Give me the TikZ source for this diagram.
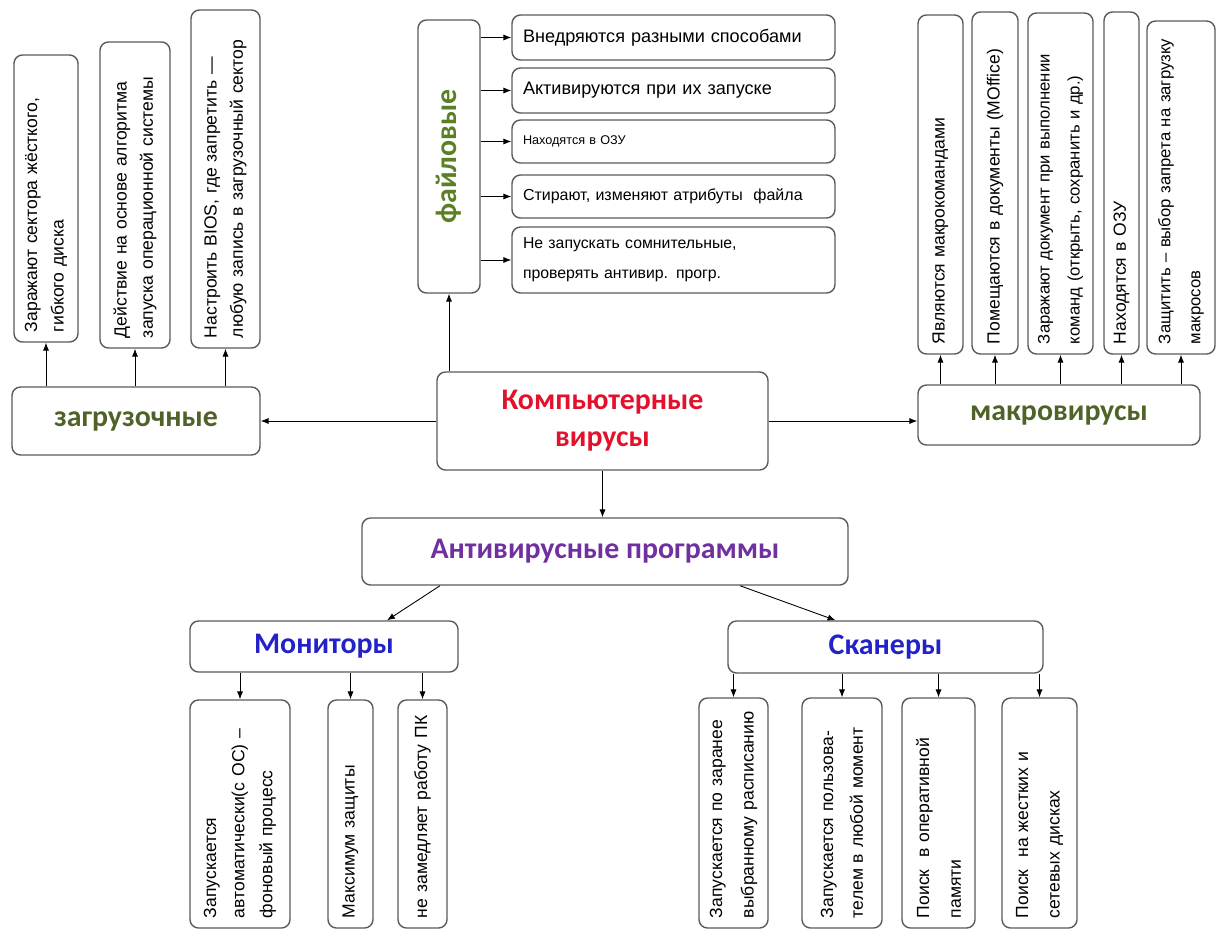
\documentclass[tikz,border=0pt]{standalone}
\usepackage{fontspec}
\setmainfont{Liberation Sans}
\newfontfamily\hdfont{Carlito}
\usepackage{tikz}
\usetikzlibrary{arrows.meta}
\definecolor{virred}{HTML}{E3122C}
\definecolor{olivetxt}{HTML}{4F6228}
\definecolor{filgreen}{HTML}{5B7F24}
\definecolor{avpurple}{HTML}{7030A0}
\definecolor{avblue}{HTML}{2222C8}
\definecolor{boxgray}{HTML}{5A5A5A}
\newcommand{\pxl}{0.02cm}
\tikzstyle{box}=[draw=boxgray,line width=0.8pt,rounded corners=0.17cm,
                 inner sep=0pt]
\tikzstyle{vbox}=[box,rotate=90,align=left,
                  font=\fontsize{10}{15}\selectfont]
\tikzstyle{hbox}=[box,align=left,font=\fontsize{10}{17}\selectfont]
\tikzstyle{hdr}=[box,align=center,
                 font=\hdfont\bfseries\fontsize{17}{21}\selectfont]
\tikzstyle{arr}=[-{Latex[length=4.5pt,width=3.5pt]},line width=0.5pt]
\tikzset{vsize/.style 2 args={minimum width=#2*\pxl,minimum height=#1*\pxl,
                              text width=(#2-20)*\pxl},
         hsize/.style 2 args={minimum width=#1*\pxl,minimum height=#2*\pxl,
                              text width=(#1-22)*\pxl}}

\begin{document}
\begin{tikzpicture}[x=\pxl,y=-\pxl]
  \useasboundingbox (0,0) rectangle (1219,931);

  % centre
  \node (cv) at (602.5,421) [hdr,text=virred,minimum width=331*\pxl,
        minimum height=98*\pxl] {Компьютерные\\вирусы};

  % boot viruses
  \node (zag) at (136,421) [hdr,text=olivetxt,minimum width=248*\pxl,
        minimum height=68*\pxl] {загрузочные};
  \node (l1) at (46,198.5) [vbox,vsize={64}{287}]
        {Заражают сектора жёсткого,\\гибкого диска};
  \node (l2) at (135,195) [vbox,vsize={70}{306}]
        {Действие на основе алгоритма\\запуска операционной системы};
  \node (l3) at (225.5,179) [vbox,vsize={69}{338}]
        {Настроить BIOS, где запретить —\\любую запись в загрузочный сектор};

  % file viruses
  \node (fil) at (449,156.5) [hdr,rotate=90,text=filgreen,
        minimum width=273*\pxl,minimum height=62*\pxl] {файловые};
  \node (f1) at (673.5,37.5) [hbox,hsize={323}{45},
        font=\fontsize{10.3}{17}\selectfont] {Внедряются разными способами};
  \node (f2) at (673.5,90.5) [hbox,hsize={323}{45},
        font=\fontsize{10.3}{17}\selectfont] {Активируются при их запуске};
  \node (f3) at (673.5,141.5) [hbox,hsize={323}{43},
        font=\fontsize{7.2}{17}\selectfont] {Находятся в ОЗУ};
  \node (f4) at (673.5,196.5) [hbox,hsize={323}{43},
        font=\fontsize{9.1}{17}\selectfont] {Стирают, изменяют атрибуты\ \ файла};
  \node (f5) at (673.5,260) [hbox,hsize={323}{66},
        font=\fontsize{9}{17}\selectfont]
        {Не запускать сомнительные,\\проверять антивир. прогр.};

  % macro viruses
  \node (mak) at (1059,415) [hdr,text=olivetxt,minimum width=282*\pxl,
        minimum height=60*\pxl] {макровирусы};
  \node (m1) at (940.5,184.5) [vbox,vsize={45}{339}] {Являются макрокомандами};
  \node (m2) at (995,183) [vbox,vsize={46}{342}]
        {Помещаются в документы (MOffice)};
  \node (m3) at (1060.5,183.5) [vbox,vsize={65}{341},
        font=\fontsize{9.5}{17}\selectfont]
        {Заражают документ при выполнении\\команд (открыть, сохранить и др.)};
  \node (m4) at (1121.5,183) [vbox,vsize={35}{342}] {Находятся в ОЗУ};
  \node (m5) at (1181,187.5) [vbox,vsize={68}{333},
        font=\fontsize{9.5}{17}\selectfont]
        {Защитить – выбор запрета на загрузку\\макросов};

  % antivirus programs
  \node (ap) at (605,551.5) [hdr,text=avpurple,minimum width=486*\pxl,
        minimum height=67*\pxl] {Антивирусные программы};
  \node (mon) at (324,646.5) [hdr,text=avblue,minimum width=268*\pxl,
        minimum height=51*\pxl] {Мониторы};
  \node (sca) at (885.5,647) [hdr,text=avblue,minimum width=315*\pxl,
        minimum height=52*\pxl] {Сканеры};
  \node (o1) at (240,814) [vbox,vsize={100}{228},
        font=\fontsize{10}{16}\selectfont]
        {Запускается\\автоматически(с ОС) –\\фоновый процесс};
  \node (o2) at (350.5,814) [vbox,vsize={45}{228}] {Максимум защиты};
  \node (o3) at (422.5,814) [vbox,vsize={49}{228}] {не замедляет работу ПК};
  \node (s1) at (733.5,813) [vbox,vsize={69}{230},
        font=\fontsize{10}{18}\selectfont]
        {Запускается по заранее\\выбранному расписанию};
  \node (s2) at (842,813) [vbox,vsize={80}{230},
        font=\fontsize{10}{17}\selectfont]
        {Запускается пользова-\\телем в любой момент};
  \node (s3) at (938.5,813) [vbox,vsize={73}{230},
        font=\fontsize{10}{18}\selectfont]
        {Поиск\ \ в оперативной\\памяти};
  \node (s4) at (1039.5,813) [vbox,vsize={75}{230},
        font=\fontsize{10}{18}\selectfont]
        {Поиск\ \ на жестких и\\сетевых дисках};

  % connectors
  \draw[arr] (cv.west) -- (cv.west -| zag.east);
  \draw[arr] (cv.east) -- (cv.east -| mak.west);
  \draw[arr] (cv.north -| fil.center) -- (fil);
  \draw[arr] (cv.south) -- (cv.south |- ap.north);
  \foreach \b in {l1,l2,l3}
    \draw[arr] (zag.north -| \b.center) -- (\b);
  \foreach \b in {f1,f2,f3,f4,f5}
    \draw[arr] (\b -| fil.south) -- (\b);
  \foreach \b in {m1,m2,m3,m4,m5}
    \draw[arr] (mak.north -| \b.center) -- (\b);
  \draw[arr] ([xshift=-165*\pxl]ap.south) -- ([xshift=63*\pxl]mon.north);
  \draw[arr] ([xshift=135*\pxl]ap.south) -- ([xshift=-50*\pxl]sca.north);
  \foreach \b in {o1,o2,o3}
    \draw[arr] (mon.south -| \b.center) -- (\b);
  \foreach \b in {s1,s2,s3,s4}
    \draw[arr] (sca.south -| \b.center) -- (\b);
\end{tikzpicture}
\end{document}
